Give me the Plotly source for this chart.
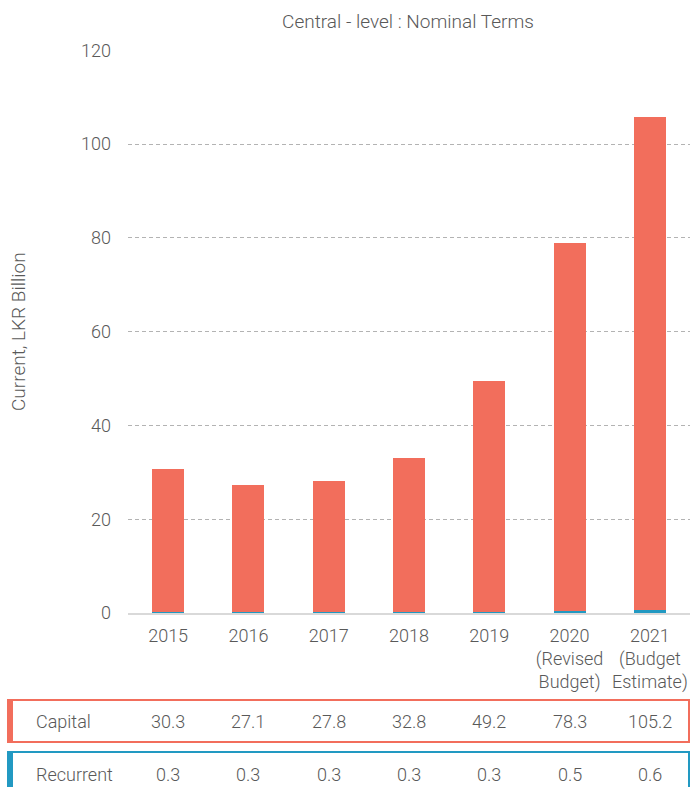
import plotly.graph_objects as go

# Data: central-level expenditure, current LKR billion
years = ["2015", "2016", "2017", "2018", "2019",
         "2020<br>(Revised<br>Budget)", "2021<br>(Budget<br>Estimate)"]
capital = [30.3, 27.1, 27.8, 32.8, 49.2, 78.3, 105.2]
recurrent = [0.3, 0.3, 0.3, 0.3, 0.3, 0.5, 0.6]
y_ticks = [0, 20, 40, 60, 80, 100, 120]

CORAL = "#f26e5c"
BLUE = "#2299c2"
TEXT = "#595959"
FONT = "Roboto"
WEIGHT = 300

W, H = 691, 787
M_L, M_R, M_T, M_B = 128, 1, 50, 174
PH = H - M_T - M_B
PW = W - M_L - M_R


def py(px):
    """Pixel row -> paper y coordinate."""
    return (H - M_B - px) / PH


def pxx(px):
    """Pixel column -> paper x coordinate."""
    return (px - M_L) / PW


def font(size=18):
    return dict(family=FONT, size=size, color=TEXT, weight=WEIGHT)


fig = go.Figure()
fig.add_trace(go.Bar(x=years, y=recurrent, name="Recurrent",
                     marker=dict(color=BLUE, line=dict(width=0)), width=0.4))
fig.add_trace(go.Bar(x=years, y=capital, name="Capital",
                     marker=dict(color=CORAL, line=dict(width=0)), width=0.4))

fig.update_layout(
    barmode="stack",
    width=W, height=H,
    margin=dict(l=M_L, r=M_R, t=M_T, b=M_B),
    paper_bgcolor="white", plot_bgcolor="white",
    showlegend=False,
    font=font(),
    title=dict(text="Central - level : Nominal Terms", x=pxx(408), xref="paper",
               xanchor="center", y=1 - 21 / H, yref="container", yanchor="middle",
               font=font(19)),
    xaxis=dict(type="category", showgrid=False, showline=True,
               linecolor="#d9d9d9", linewidth=2,
               tickfont=font(), ticks="", ticklabelstandoff=5, fixedrange=True),
    yaxis=dict(range=[0, 120.05], tickvals=y_ticks, showgrid=True,
               gridcolor="#b3b3b3", griddash="4px,3px", gridwidth=1,
               zeroline=False, showline=False, ticks="",
               ticklabelstandoff=16,
               tickfont=font()),
)

# Vertical axis title
fig.add_annotation(text="Current, LKR Billion", textangle=-90,
                   xref="paper", yref="paper", x=pxx(18), y=py(332),
                   xanchor="center", yanchor="middle", showarrow=False,
                   font=font(19))

# Data table below the chart
rows = [("Capital", capital, CORAL, 700, 742, 721),
        ("Recurrent", recurrent, BLUE, 752, 800, 774)]
for label, vals, col, top, bot, mid in rows:
    fig.add_shape(type="rect", xref="paper", yref="paper",
                  x0=pxx(8), x1=pxx(689), y0=py(bot), y1=py(top),
                  line=dict(color=col, width=2), fillcolor="rgba(0,0,0,0)")
    fig.add_shape(type="rect", xref="paper", yref="paper",
                  x0=pxx(7), x1=pxx(13), y0=py(bot + 1), y1=py(top - 1),
                  line=dict(width=0), fillcolor=col)
    fig.add_annotation(text=label, xref="paper", yref="paper", x=pxx(34), y=py(mid),
                       xanchor="left", yanchor="middle", showarrow=False,
                       font=font())
    for i, v in enumerate(vals):
        fig.add_annotation(text=f"{v:.1f}", xref="x", yref="paper", x=i, y=py(mid),
                           xanchor="center", yanchor="middle", showarrow=False,
                           font=font())

fig.write_html("out.html")
